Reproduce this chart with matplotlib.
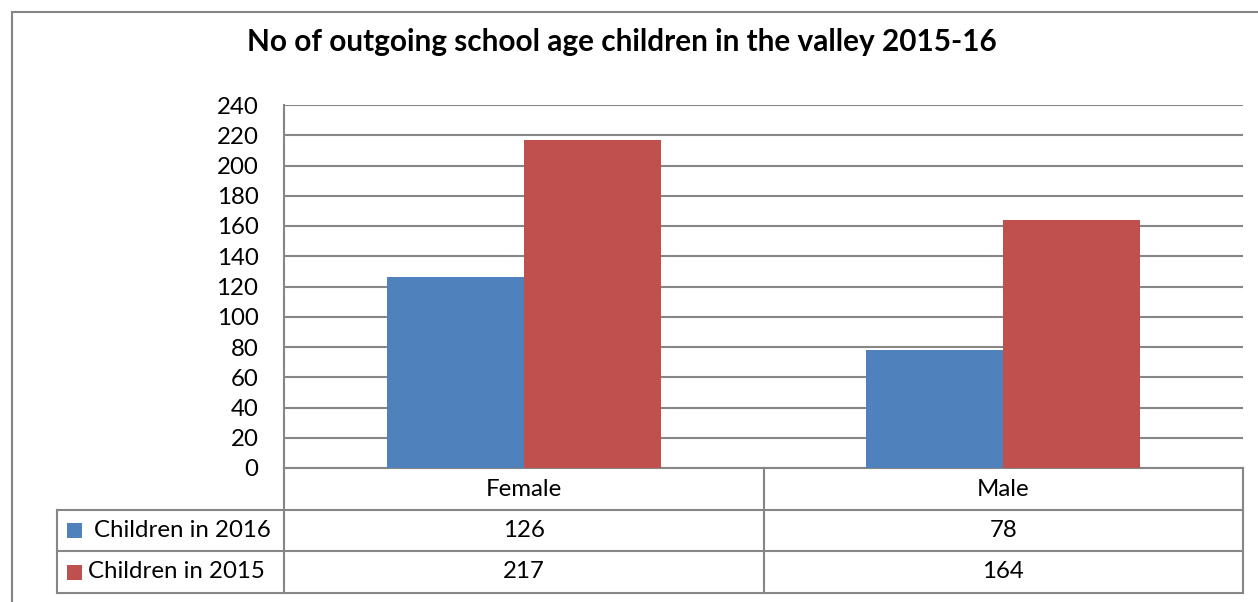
import matplotlib
matplotlib.use("Agg")
import matplotlib.pyplot as plt
from matplotlib.patches import Rectangle
from matplotlib.lines import Line2D

categories = ["Female", "Male"]
series_names = ["Children in 2016", "Children in 2015"]
values_2016 = [126, 78]
values_2015 = [217, 164]
yticks = list(range(0, 241, 20))
title = "No of outgoing school age children in the valley 2015-16"

colors = ["#4F81BD", "#C0504D"]
grid_c = "#868686"
FONT = ["Lato", "DejaVu Sans"]
plt.rcParams['font.family'] = FONT
FS = 17.3

W, H = 1258, 602
fig = plt.figure(figsize=(W / 100, H / 100), dpi=100)

def fx(px):
    return px / W

def fy(py):
    return 1 - py / H

# outer chart frame
fig.add_artist(Rectangle((fx(12), fy(640)), fx(1300), 628 / H, transform=fig.transFigure,
                         fill=False, edgecolor="#868686", lw=1.5))

L, R, T, B = 284, 1243, 105, 468
ax = fig.add_axes([fx(L), fy(B), fx(R - L), (B - T) / H])

n = len(categories)
bw = 1 / (2 + 1.5)
series = [values_2016, values_2015]
for i, vals in enumerate(series):
    xs = [c + 0.5 + (i - 1) * bw + bw / 2 for c in range(n)]
    ax.bar(xs, vals, width=bw, color=colors[i], zorder=3)

ax.set_xlim(0, n)
ax.set_ylim(0, 240)
ax.set_yticks(yticks)
ax.set_yticklabels([str(t) for t in yticks], fontsize=FS, color="black")
ax.tick_params(axis="y", length=0, pad=18.5)
ax.tick_params(axis="x", length=0, labelbottom=False)
ax.yaxis.grid(True, color=grid_c, lw=1.5, zorder=0)
for s in ["top", "right"]:
    ax.spines[s].set_visible(False)
ax.spines["left"].set_color(grid_c)
ax.spines["left"].set_linewidth(1.5)
ax.spines["bottom"].set_color(grid_c)
ax.spines["bottom"].set_linewidth(1.5)

fig.text(fx(622), fy(42), title, ha="center", va="center", fontsize=21.4, fontweight="bold")

# data table
lw = 1.5
def hline(y, x0, x1):
    fig.add_artist(Line2D([fx(x0), fx(x1)], [fy(y), fy(y)], color=grid_c, lw=lw,
                          transform=fig.transFigure))

def vline(x, y0, y1):
    fig.add_artist(Line2D([fx(x), fx(x)], [fy(y0), fy(y1)], color=grid_c, lw=lw,
                          transform=fig.transFigure))

rows_y = [468, 510, 551, 593]
TL = 57
hline(510, TL, R)
hline(551, TL, R)
hline(593, TL, R)
vline(TL, 510, 593)
vline(L, 468, 593)
colw = (R - L) / n
for c in range(1, n + 1):
    vline(L + c * colw, 468, 593)

for c, cat in enumerate(categories):
    fig.text(fx(L + (c + 0.5) * colw), fy(489), cat, ha="center", va="center", fontsize=FS)

text_x = [94, 88]
for i, name in enumerate(series_names):
    yc = (rows_y[i + 1] + rows_y[i + 2]) / 2
    fig.add_artist(Rectangle((fx(67), fy(yc + 7.5)), fx(15), 15 / H, transform=fig.transFigure,
                             facecolor=colors[i], edgecolor="none"))
    fig.text(fx(text_x[i]), fy(yc), name, ha="left", va="center", fontsize=FS)
    for c in range(n):
        fig.text(fx(L + (c + 0.5) * colw), fy(yc), str(series[i][c]), ha="center",
                 va="center", fontsize=FS)

fig.savefig("out.png", dpi=100, facecolor="white")
